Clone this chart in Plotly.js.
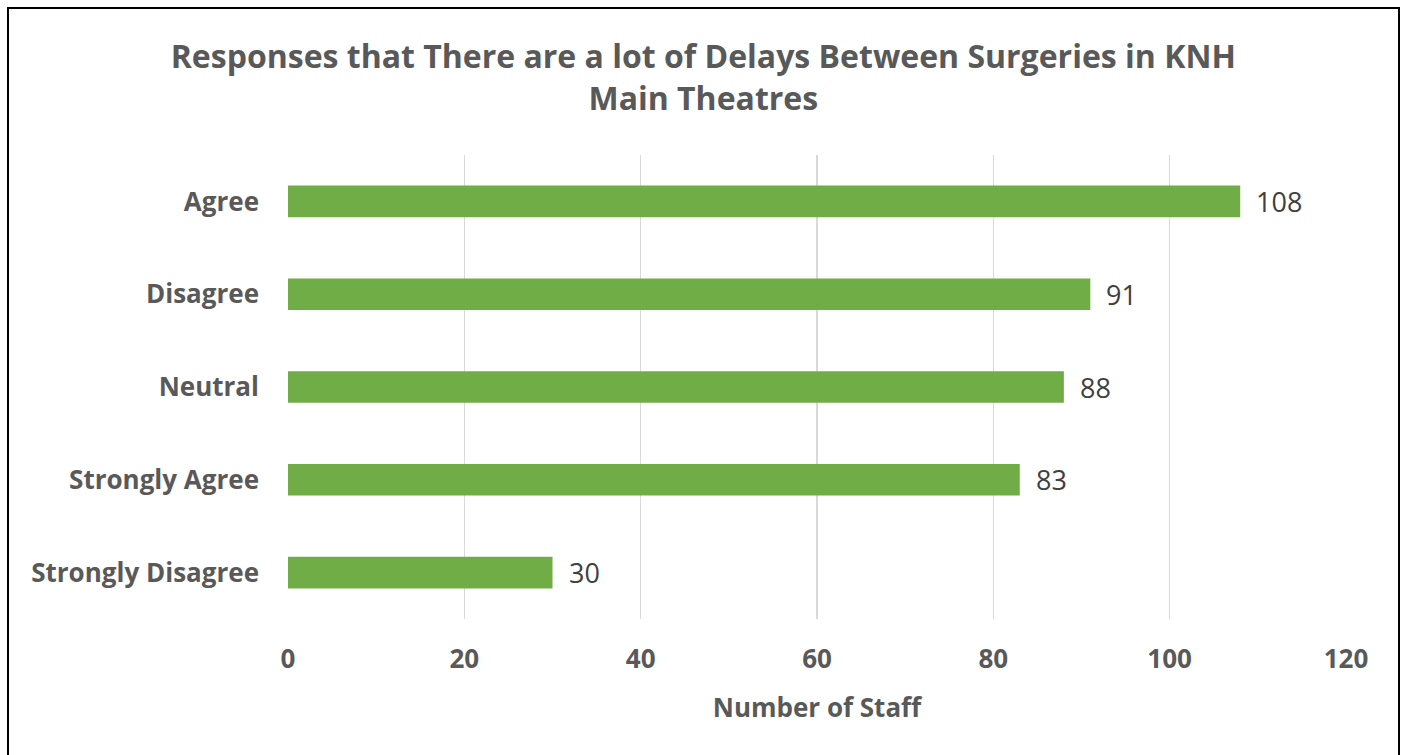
<!DOCTYPE html>
<html>
<head>
<meta charset="utf-8">
<script src="https://cdn.plot.ly/plotly-3.0.1.min.js"></script>
<style>
  html, body { margin: 0; padding: 0; overflow: hidden; background: #fff; }
  #wrap { position: relative; width: 1401px; height: 755px; }
  #chart { width: 1401px; height: 755px; }
  #frame { position: absolute; left: 7px; top: 7px; width: 1389px; height: 800px;
           border: 2px solid #000; pointer-events: none; }
</style>
</head>
<body>
<div id="wrap">
  <div id="chart"></div>
  <div id="frame"></div>
</div>
<script>
const categories = ["Agree", "Disagree", "Neutral", "Strongly Agree", "Strongly Disagree"];
const staffCounts = [108, 91, 88, 83, 30];
const xTicks = [0, 20, 40, 60, 80, 100, 120];

const FONT = "Open Sans, Lato, sans-serif";
const GREY = "#595959";

const trace = {
  type: "bar",
  orientation: "h",
  y: categories,
  x: staffCounts,
  marker: { color: "#70AD47" },
  hoverinfo: "x+y"
};

const annotations = staffCounts.map((v, i) => ({
  x: v, y: categories[i], xref: "x", yref: "y",
  text: String(v), showarrow: false,
  xanchor: "left", yanchor: "middle", xshift: 14,
  font: { family: FONT, size: 27, color: "#404040" }
}));

const layout = {
  width: 1401, height: 755,
  margin: { l: 288, r: 55, t: 155, b: 136 },
  paper_bgcolor: "#fff", plot_bgcolor: "#fff",
  showlegend: false,
  bargap: 0.66,
  title: {
    text: "Responses that There are a lot of Delays Between Surgeries in KNH<br>Main Theatres",
    x: 0.502, xref: "container", xanchor: "center",
    y: 0.910, yref: "container", yanchor: "top",
    font: { family: FONT, size: 32, color: GREY, weight: "bold" }
  },
  xaxis: {
    range: [0, 120],
    tickvals: xTicks,
    ticktext: xTicks.map(String),
    showgrid: true, gridcolor: "#D9D9D9", gridwidth: 1.5,
    zeroline: false, showline: false, ticks: "",
    ticklabelstandoff: 22,
    tickfont: { family: FONT, size: 26, color: GREY, weight: "bold" },
    title: { text: "Number of Staff", standoff: 23,
             font: { family: FONT, size: 26, color: GREY, weight: "bold" } },
    fixedrange: true
  },
  yaxis: {
    type: "category",
    categoryorder: "array",
    categoryarray: categories,
    autorange: "reversed",
    showgrid: false, zeroline: false, showline: false, ticks: "",
    ticklabelstandoff: 28,
    tickfont: { family: FONT, size: 26, color: GREY, weight: "bold" },
    fixedrange: true
  },
  annotations: annotations
};

Plotly.newPlot("chart", [trace], layout, { displayModeBar: false, staticPlot: true });
</script>
</body>
</html>
